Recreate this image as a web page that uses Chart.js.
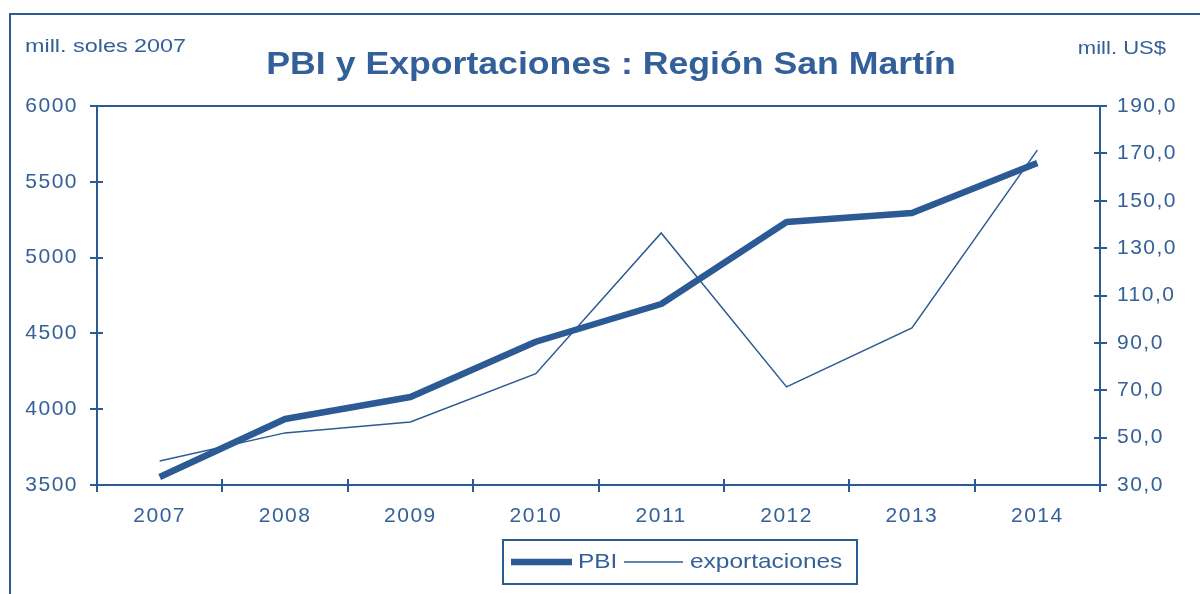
<!DOCTYPE html>
<html><head><meta charset="utf-8">
<script src="https://cdn.jsdelivr.net/npm/chart.js@4/dist/chart.umd.min.js"></script>
<style>html,body{margin:0;padding:0;background:#fff;overflow:hidden}#wrap{width:1200px;height:594px;position:relative}</style>
</head><body><div id="wrap"><canvas id="c" width="1200" height="594"></canvas></div>
<script>
const years = ['2007','2008','2009','2010','2011','2012','2013','2014'];
const pbi = [3553, 3935, 4080, 4445, 4694, 5235, 5294, 5624];
const exportaciones = [40.1, 52.0, 56.6, 77.0, 136.4, 71.4, 96.3, 171.4];
const leftTicks = [3500, 4000, 4500, 5000, 5500, 6000];
const rightTicks = [30, 50, 70, 90, 110, 130, 150, 170, 190];
const titleText = 'PBI y Exportaciones : Región San Martín';
const leftUnit = 'mill. soles 2007';
const rightUnit = 'mill. US$';

const BLUE = '#2b5a94';
const TXT = '#34609a';
const FONT = "'Liberation Sans', Arial, sans-serif";

function stretchText(ctx, text, x, y, font, align, sx) {
  ctx.save();
  ctx.letterSpacing = '0px';
  ctx.font = font;
  ctx.fillStyle = TXT;
  ctx.textBaseline = 'middle';
  const w = ctx.measureText(text).width * sx;
  let left = x;
  if (align === 'center') left = x - w / 2;
  else if (align === 'right') left = x - w;
  ctx.translate(left, y);
  ctx.scale(sx, 1);
  ctx.textAlign = 'left';
  ctx.fillText(text, 0, 0);
  ctx.restore();
}

const decor = {
  id: 'decor',
  beforeDraw(chart) {
    const ctx = chart.ctx;
    ctx.save();
    ctx.fillStyle = '#fff';
    ctx.fillRect(0, 0, chart.width, chart.height);
    ctx.strokeStyle = BLUE;
    ctx.lineWidth = 2;
    ctx.strokeRect(10, 14, chart.width + 20, chart.height + 20);
    ctx.restore();
    ctx.letterSpacing = '1.5px';
  },
  afterDraw(chart) {
    const ctx = chart.ctx;
    ctx.letterSpacing = '0px';
    const a = chart.chartArea;
    ctx.save();
    ctx.strokeStyle = BLUE;
    ctx.lineWidth = 2;
    ctx.beginPath();
    ctx.moveTo(a.left, a.top); ctx.lineTo(a.right, a.top);
    const y = chart.scales.y, y1 = chart.scales.y1;
    y.ticks.forEach(t => { const p = Math.round(y.getPixelForValue(t.value)); ctx.moveTo(a.left, p); ctx.lineTo(a.left + 6, p); });
    y1.ticks.forEach(t => { const p = Math.round(y1.getPixelForValue(t.value)); ctx.moveTo(a.right, p); ctx.lineTo(a.right - 6, p); });
    const n = years.length;
    for (let i = 0; i <= n; i++) {
      const p = Math.round(a.left + (a.right - a.left) * i / n);
      ctx.moveTo(p, a.bottom); ctx.lineTo(p, a.bottom - 6);
    }
    ctx.stroke();
    ctx.restore();

    stretchText(ctx, titleText, 611, 65, "bold 31px " + FONT, 'center', 1.15);
    stretchText(ctx, leftUnit, 25, 47, "19px " + FONT, 'left', 1.23);
    stretchText(ctx, rightUnit, 1166, 49, "19px " + FONT, 'right', 1.16);

    // legend
    ctx.save();
    ctx.strokeStyle = BLUE;
    ctx.lineWidth = 2;
    ctx.strokeRect(503, 540, 354, 44);
    const ly = 562;
    const ds = chart.data.datasets;
    ctx.strokeStyle = ds[0].borderColor;
    ctx.lineWidth = ds[0].borderWidth;
    ctx.beginPath(); ctx.moveTo(511, ly); ctx.lineTo(572, ly); ctx.stroke();
    ctx.restore();
    stretchText(ctx, ds[0].label, 578, ly, "21px " + FONT, 'left', 1.16);
    ctx.save();
    ctx.strokeStyle = ds[1].borderColor;
    ctx.lineWidth = ds[1].borderWidth;
    ctx.beginPath(); ctx.moveTo(624, ly); ctx.lineTo(683, ly); ctx.stroke();
    ctx.restore();
    stretchText(ctx, ds[1].label, 690, ly, "21px " + FONT, 'left', 1.165);
  }
};

new Chart(document.getElementById('c'), {
  type: 'line',
  data: {
    labels: years,
    datasets: [
      { label: 'PBI', data: pbi, yAxisID: 'y', borderColor: BLUE, backgroundColor: BLUE,
        borderWidth: 6.5, pointRadius: 0, tension: 0, borderJoinStyle: 'round', borderCapStyle: 'butt' },
      { label: 'exportaciones', data: exportaciones, yAxisID: 'y1', borderColor: BLUE, backgroundColor: BLUE,
        borderWidth: 1.5, pointRadius: 0, tension: 0 }
    ]
  },
  options: {
    responsive: false,
    animation: false,
    devicePixelRatio: 1,
    layout: { padding: { top: 106, left: 0, right: 0, bottom: 0 } },
    plugins: { legend: { display: false }, title: { display: false }, tooltip: { enabled: false } },
    scales: {
      x: {
        type: 'category', offset: true,
        grid: { offset: true, drawOnChartArea: false, drawTicks: true, tickLength: 7, color: BLUE, lineWidth: 2 },
        border: { color: BLUE, width: 2 },
        ticks: { color: TXT, font: { family: FONT, size: 21 }, padding: 12, maxRotation: 0 },
        afterFit: s => { s.height = 109; }
      },
      y: {
        position: 'left', min: 3500, max: 6000,
        afterBuildTicks: s => { s.ticks = leftTicks.map(v => ({ value: v })); },
        grid: { drawOnChartArea: false, drawTicks: true, tickLength: 7, color: BLUE, lineWidth: 2 },
        border: { color: BLUE, width: 2 },
        ticks: { color: TXT, font: { family: FONT, size: 21 }, padding: 12, callback: v => String(v) },
        afterFit: s => { s.width = 97; }
      },
      y1: {
        position: 'right', min: 30, max: 190,
        afterBuildTicks: s => { s.ticks = rightTicks.map(v => ({ value: v })); },
        grid: { drawOnChartArea: false, drawTicks: true, tickLength: 7, color: BLUE, lineWidth: 2 },
        border: { color: BLUE, width: 2 },
        ticks: { color: TXT, font: { family: FONT, size: 21 }, padding: 10,
          callback: v => v.toFixed(1).replace('.', ',') },
        afterFit: s => { s.width = 100; }
      }
    }
  },
  plugins: [decor]
});
</script>
</body></html>
